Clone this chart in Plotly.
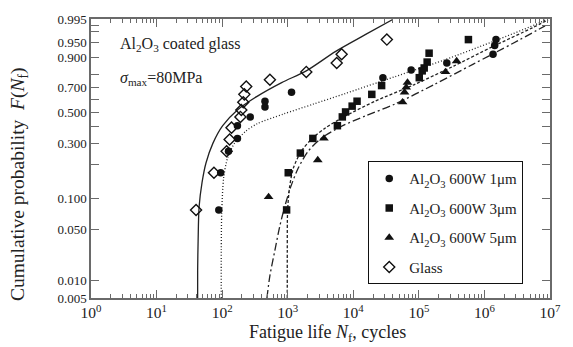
import numpy as np
import plotly.graph_objects as go

# ---------------- data (fatigue life in cycles, cumulative probability) ----------------
glass_N = [40, 75, 117, 130, 139, 190, 196, 210, 218, 233, 535, 1920, 5590, 6640, 32500]
glass_F = [0.078, 0.170, 0.258, 0.320, 0.393, 0.468, 0.520, 0.581, 0.644, 0.706,
           0.759, 0.815, 0.871, 0.913, 0.960]

um1_N = [89, 95, 125, 171, 171, 268, 450, 450, 1143, 28300, 76300, 267000,
         1352000, 1433000, 1500000]
um1_F = [0.078, 0.170, 0.258, 0.326, 0.406, 0.468, 0.5425, 0.589, 0.660, 0.774,
         0.828, 0.871, 0.913, 0.942, 0.960]

um3_N = [962, 1019, 1559, 2417, 5723, 6803, 7627, 9611, 11421, 19153, 27051,
         101500, 112500, 120600, 133800, 143300, 570000]
um3_F = [0.078, 0.170, 0.249, 0.326, 0.406, 0.468, 0.505, 0.550, 0.589, 0.644,
         0.714, 0.774, 0.822, 0.841, 0.8765, 0.917, 0.960]

um5_N = [511, 2872, 3566, 56450, 60500, 64150, 67100, 255000, 376700]
um5_F = [0.104, 0.218, 0.326, 0.581, 0.660, 0.699, 0.737, 0.815, 0.882]

# fitted curves
fit_glass_N = [42.3, 42.3, 43.0, 44.5, 49.4, 56.7, 72.2, 102, 171, 341, 809, 1918, 5397, 15218, 39970]
fit_glass_F = [0.005, 0.0138, 0.0347, 0.0834, 0.140, 0.206, 0.298, 0.406, 0.520, 0.628,
               0.737, 0.822, 0.9235, 0.9737, 0.9953]

fit_1_N = [96.9, 96.9, 98.6, 105.6, 121, 154, 226, 341, 867, 2443, 7627, 42830,
           240600, 1352000, 6842000, 8410000]
fit_1_F = [0.005, 0.0256, 0.0747, 0.1543, 0.2268, 0.298, 0.3675, 0.419, 0.490, 0.5655,
           0.6515, 0.7807, 0.8874, 0.9535, 0.9923, 0.99473]

fit_3_N = [985, 985, 995, 1066, 1225, 1614, 2278, 3822, 7627, 21480, 85500, 340000,
           1352000, 5373000, 9330000]
fit_3_F = [0.005, 0.0256, 0.0747, 0.1265, 0.1875, 0.258, 0.320, 0.393, 0.475, 0.589,
           0.7217, 0.853, 0.9391, 0.9866, 0.99473]

fit_5_N = [482, 535, 635, 755, 898, 1104, 1455, 2055, 3221, 6415, 15218, 42830,
           170300, 677000, 2694000, 8410000]
fit_5_F = [0.005, 0.0118, 0.0256, 0.0535, 0.0834, 0.1265, 0.1875, 0.258, 0.326, 0.399,
           0.475, 0.5655, 0.7217, 0.865, 0.9474, 0.9892]

# axis ticks
x_tickvals = [1, 10, 100, 1e3, 1e4, 1e5, 1e6, 1e7]
x_ticktext = ["10<sup>%d</sup>" % i for i in range(8)]
y_ticks_F = [0.005, 0.010, 0.050, 0.100, 0.200, 0.300, 0.400, 0.500, 0.600, 0.700,
             0.800, 0.900, 0.950, 0.980, 0.990, 0.995]
y_ticktext = ["0.005", "0.010", "0.050", "0.100", "", "0.300", "", "0.500", "",
              "0.700", "", "0.900", "0.950", "", "", "0.995"]

# ---------------- probability scale (Weibull, piecewise as drawn in the original) ----------------
def weib(F):
    F = np.asarray(F, dtype=float)
    return np.log(-np.log(1.0 - F))

SCALE_W = weib([0.005, 0.010, 0.050, 0.100, 0.900, 0.950, 0.995])
SCALE_D = np.array([-4.417, -4.043, -2.920, weib(0.100), weib(0.900), 1.1656, weib(0.995)])

def pscale(F):
    return np.interp(weib(F), SCALE_W, SCALE_D)

Y_RANGE = [-4.417, 1.679]

FONT = "Liberation Serif"
INK = "#222"
AX = "#6a6a6a"

fig = go.Figure()

line_specs = [
    (fit_glass_N, fit_glass_F, "solid", 1.3),
    (fit_1_N, fit_1_F, "1px,2px", 1.3),
    (fit_3_N, fit_3_F, "3px,2px", 1.3),
    (fit_5_N, fit_5_F, "8px,3px,2px,3px", 1.3),
]
for n, f, dash, w in line_specs:
    fig.add_trace(go.Scatter(x=n, y=pscale(f), mode="lines", showlegend=False,
                             hoverinfo="skip",
                             line=dict(color=INK, width=w, dash=dash, shape="spline",
                                       smoothing=0.8)))

marker_specs = [
    ("Al<sub>2</sub>O<sub>3</sub> 600W 1μm", um1_N, um1_F, "circle", 7.5, 0),
    ("Al<sub>2</sub>O<sub>3</sub> 600W 3μm", um3_N, um3_F, "square", 7.5, 0),
    ("Al<sub>2</sub>O<sub>3</sub> 600W 5μm", um5_N, um5_F, "triangle-up", 8.5, 0),
    ("Glass", glass_N, glass_F, "diamond-open", 8.5, 1.4),
]
for i, (name, n, f, sym, sz, lw) in enumerate(marker_specs):
    fig.add_trace(go.Scatter(x=n, y=pscale(f), mode="markers", name=name,
                             legendgroup="g%d" % i,
                             marker=dict(symbol=sym, size=sz, color="#111",
                                         line=dict(color="#111", width=lw))))

fig.update_xaxes(type="log", range=[0, 7], tickvals=x_tickvals, ticktext=x_ticktext,
                 ticks="inside", ticklen=8, tickwidth=1, tickcolor=AX,
                 showline=True, linecolor=AX, linewidth=1.5, mirror="ticks",
                 showgrid=False, zeroline=False,
                 tickfont=dict(family=FONT, size=15.5, color=INK),
                 minor=dict(ticks="inside", ticklen=4, tickwidth=1, tickcolor=AX,
                            dtick="D1", showgrid=False))
fig.update_yaxes(range=Y_RANGE, tickvals=pscale(y_ticks_F), ticktext=y_ticktext,
                 ticks="inside", ticklen=8, tickwidth=1, tickcolor=AX,
                 showline=True, linecolor=AX, linewidth=1.5, mirror="ticks",
                 showgrid=False, zeroline=False,
                 tickfont=dict(family=FONT, size=13, color=INK))

fig.add_annotation(text="Al<sub>2</sub>O<sub>3</sub> coated glass", xref="paper", yref="paper",
                   x=0.058, y=0.91, xanchor="left", yanchor="middle", showarrow=False,
                   font=dict(family=FONT, size=16, color=INK))
fig.add_annotation(text="<i>σ</i><sub>max</sub>=80MPa", xref="paper", yref="paper",
                   x=0.058, y=0.785, xanchor="left", yanchor="middle", showarrow=False,
                   font=dict(family=FONT, size=16, color=INK))
fig.add_annotation(text="Cumulative probability\u00a0\u00a0<i>F</i>(<i>N</i><sub>f</sub>)",
                   xref="paper", yref="paper", x=-0.158, y=0.41, textangle=-90,
                   xanchor="center", yanchor="middle", showarrow=False,
                   font=dict(family=FONT, size=19.5, color=INK))
fig.add_annotation(text="Fatigue life <i>N</i><sub>f</sub>, cycles",
                   xref="paper", yref="paper", x=0.515, y=-0.128,
                   xanchor="center", yanchor="middle", showarrow=False,
                   font=dict(family=FONT, size=18, color=INK))

fig.update_layout(
    width=573, height=347,
    margin=dict(l=91, r=15, t=13, b=49),
    paper_bgcolor="white", plot_bgcolor="white",
    showlegend=True,
    legend=dict(x=0.604, y=0.49, xanchor="left", yanchor="top",
                bgcolor="white", bordercolor="#111", borderwidth=1,
                font=dict(family=FONT, size=15, color=INK),
                traceorder="grouped", tracegroupgap=7),
)

fig.write_html("out.html")
